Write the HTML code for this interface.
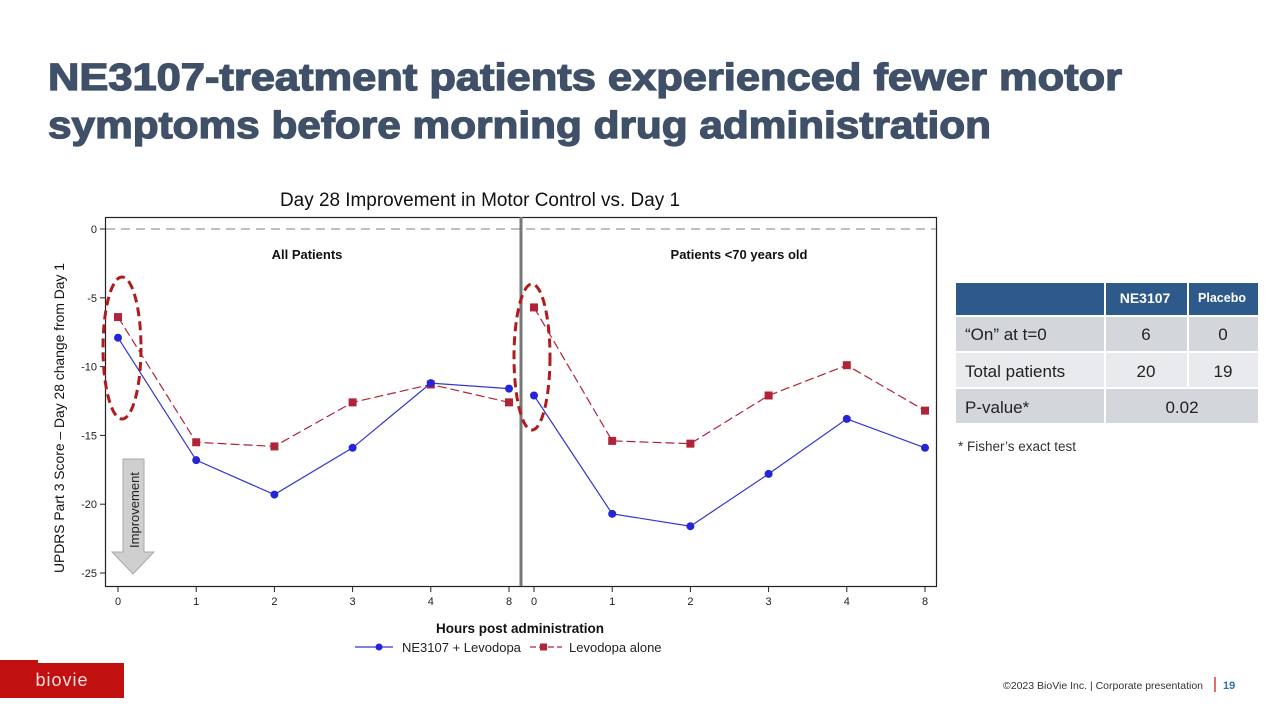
<!DOCTYPE html>
<html><head><meta charset="utf-8"><style>
html,body{margin:0;padding:0;background:#fff;width:1280px;height:720px;overflow:hidden}
svg{display:block}
text{font-family:"Liberation Sans",sans-serif}
</style></head><body>
<svg id="s" width="1280" height="720" viewBox="0 0 1280 720">
<g fill="#3f5068" stroke="#3f5068" stroke-width="1.3" font-weight="bold" font-size="38">
<text x="48" y="90" textLength="1074" lengthAdjust="spacingAndGlyphs">NE3107-treatment patients experienced fewer motor</text>
<text x="48" y="138" textLength="943" lengthAdjust="spacingAndGlyphs">symptoms before morning drug administration</text>
</g>
<text x="480" y="206" text-anchor="middle" font-size="19" fill="#111" textLength="400" lengthAdjust="spacingAndGlyphs">Day 28 Improvement in Motor Control vs. Day 1</text>
<rect x="105.5" y="217.5" width="831" height="369" fill="none" stroke="#222" stroke-width="1.2"/>
<line x1="106" y1="229" x2="936" y2="229" stroke="#aaa" stroke-width="1.5" stroke-dasharray="9,6"/>
<line x1="521" y1="217" x2="521" y2="586" stroke="#777" stroke-width="3"/>
<text x="307" y="259" text-anchor="middle" font-size="13" font-weight="bold" fill="#111">All Patients</text>
<text x="739" y="259" text-anchor="middle" font-size="13" font-weight="bold" fill="#111">Patients &lt;70 years old</text>
<g id="yaxis"></g>
<g id="xaxis"></g>
<text transform="translate(64,418) rotate(-90)" text-anchor="middle" font-size="14" fill="#111" textLength="310" lengthAdjust="spacingAndGlyphs">UPDRS Part 3 Score – Day 28 change from Day 1</text>
<text x="520" y="633" text-anchor="middle" font-size="13.5" font-weight="bold" fill="#111">Hours post administration</text>
<g>
<polygon points="123,459 144,459 144,552 154,552 133,574 112,552 123,552" fill="#cfcfcf" stroke="#aaa" stroke-width="1"/>
<text transform="translate(139,510) rotate(-90)" text-anchor="middle" font-size="13" fill="#222">Improvement</text>
</g>
<g id="marks"></g>
<ellipse cx="122" cy="348" rx="19" ry="71" fill="none" stroke="#b01c1c" stroke-width="3" stroke-dasharray="9,5"/>
<ellipse cx="532" cy="357" rx="18" ry="73" fill="none" stroke="#b01c1c" stroke-width="3" stroke-dasharray="9,5"/>
<g>
<g>
<line x1="355" y1="647" x2="393" y2="647" stroke="#3535d0" stroke-width="1.2"/><circle cx="379" cy="647" r="3.5" fill="#2424d8"/>
<text x="402" y="652" font-size="13" fill="#222">NE3107 + Levodopa</text></g>
<g>
<line x1="530" y1="647" x2="562" y2="647" stroke="#b0243a" stroke-width="1.2" stroke-dasharray="6,3"/><rect x="540" y="643.5" width="7" height="7" fill="#b0243a"/>
<text x="569" y="652" font-size="13" fill="#222">Levodopa alone</text></g>
</g>
<g font-size="17" fill="#222">
<rect x="956" y="283" width="148" height="32" fill="#2d5a8a"/>
<rect x="1106" y="283" width="81" height="32" fill="#2d5a8a"/>
<rect x="1189" y="283" width="69" height="32" fill="#2d5a8a"/>
<text x="1145" y="303" text-anchor="middle" font-size="14" font-weight="bold" fill="#fff">NE3107</text>
<text x="1222" y="302" text-anchor="middle" font-size="12.5" font-weight="bold" fill="#fff">Placebo</text>
<rect x="956" y="317" width="148" height="34" fill="#d3d6db"/><rect x="1106" y="317" width="81" height="34" fill="#d3d6db"/><rect x="1189" y="317" width="69" height="34" fill="#d3d6db"/>
<rect x="956" y="353" width="148" height="34" fill="#e9eaed"/><rect x="1106" y="353" width="81" height="34" fill="#e9eaed"/><rect x="1189" y="353" width="69" height="34" fill="#e9eaed"/>
<rect x="956" y="389" width="148" height="34" fill="#d3d6db"/><rect x="1106" y="389" width="152" height="34" fill="#d3d6db"/>
<text x="965" y="340">“On” at t=0</text><text x="1146" y="340" text-anchor="middle">6</text><text x="1223" y="340" text-anchor="middle">0</text>
<text x="965" y="377">Total patients</text><text x="1146" y="377" text-anchor="middle">20</text><text x="1223" y="377" text-anchor="middle">19</text>
<text x="965" y="413">P-value*</text><text x="1182" y="413" text-anchor="middle">0.02</text>
</g>
<text x="958" y="451" font-size="13.5" fill="#333">* Fisher’s exact test</text>
<g>
<rect x="0" y="663" width="124" height="35" fill="#c01010"/><rect x="0" y="660" width="38" height="5" fill="#c01010"/>
<text x="62" y="686" text-anchor="middle" font-size="18" fill="#f4dede" letter-spacing="1">biovie</text>
</g>
<text x="1203" y="689" text-anchor="end" font-size="10.5" fill="#333">©2023 BioVie Inc.   |  Corporate presentation</text>
<line x1="1215" y1="677" x2="1215" y2="692" stroke="#c01010" stroke-width="1.2"/>
<text x="1223" y="689" font-size="11" font-weight="bold" fill="#2d6fb5">19</text>
</svg>
<script>
const hourLabels=["0","1","2","3","4","8"];
const yTicks=[0,-5,-10,-15,-20,-25];
const allNE=[-7.9,-16.8,-19.3,-15.9,-11.2,-11.6];
const allLevo=[-6.4,-15.5,-15.8,-12.6,-11.3,-12.6];
const youngNE=[-12.1,-20.7,-21.6,-17.8,-13.8,-15.9];
const youngLevo=[-5.7,-15.4,-15.6,-12.1,-9.9,-13.2];
const NS="http://www.w3.org/2000/svg";
function y(v){return 229+(-v)*13.76;}
function x(panel,i){return (panel===0?118:534)+i*78.2;}
function mk(tag,attrs,parent){const e=document.createElementNS(NS,tag);for(const k in attrs)e.setAttribute(k,attrs[k]);parent.appendChild(e);return e;}
const ya=document.getElementById('yaxis');
yTicks.forEach(t=>{
  mk('line',{x1:100,x2:105,y1:y(t),y2:y(t),stroke:'#222'},ya);
  const tx=mk('text',{x:97,y:y(t)+4,'text-anchor':'end','font-size':11,fill:'#222'},ya);
  tx.textContent=String(t);
  
  
});
const xa=document.getElementById('xaxis');
[0,1].forEach(p=>hourLabels.forEach((h,i)=>{
  mk('line',{x1:x(p,i),x2:x(p,i),y1:586,y2:592,stroke:'#222'},xa);
  const tx=mk('text',{x:x(p,i),y:605,'text-anchor':'middle','font-size':11,fill:'#222'},xa);
  tx.textContent=h;
  
  
}));
const g=document.getElementById('marks');
function series(p,vals,kind){
  const pts=vals.map((v,i)=>x(p,i)+','+y(v)).join(' ');
  const line=mk('polyline',{points:pts,fill:'none',stroke:kind==='ne'?'#3535d0':'#b0243a','stroke-width':1.2,'stroke-dasharray':kind==='ne'?'none':'9,4'},g);
  
  
  vals.forEach((v,i)=>{
    let m;
    if(kind==='ne')m=mk('circle',{cx:x(p,i),cy:y(v),r:4,fill:'#2424d8'},g);
    else m=mk('rect',{x:x(p,i)-4,y:y(v)-4,width:8,height:8,fill:'#b0243a'},g);
    
    
  });
}
series(0,allLevo,'levo');series(0,allNE,'ne');
series(1,youngLevo,'levo');series(1,youngNE,'ne');
</script>
</body></html>
